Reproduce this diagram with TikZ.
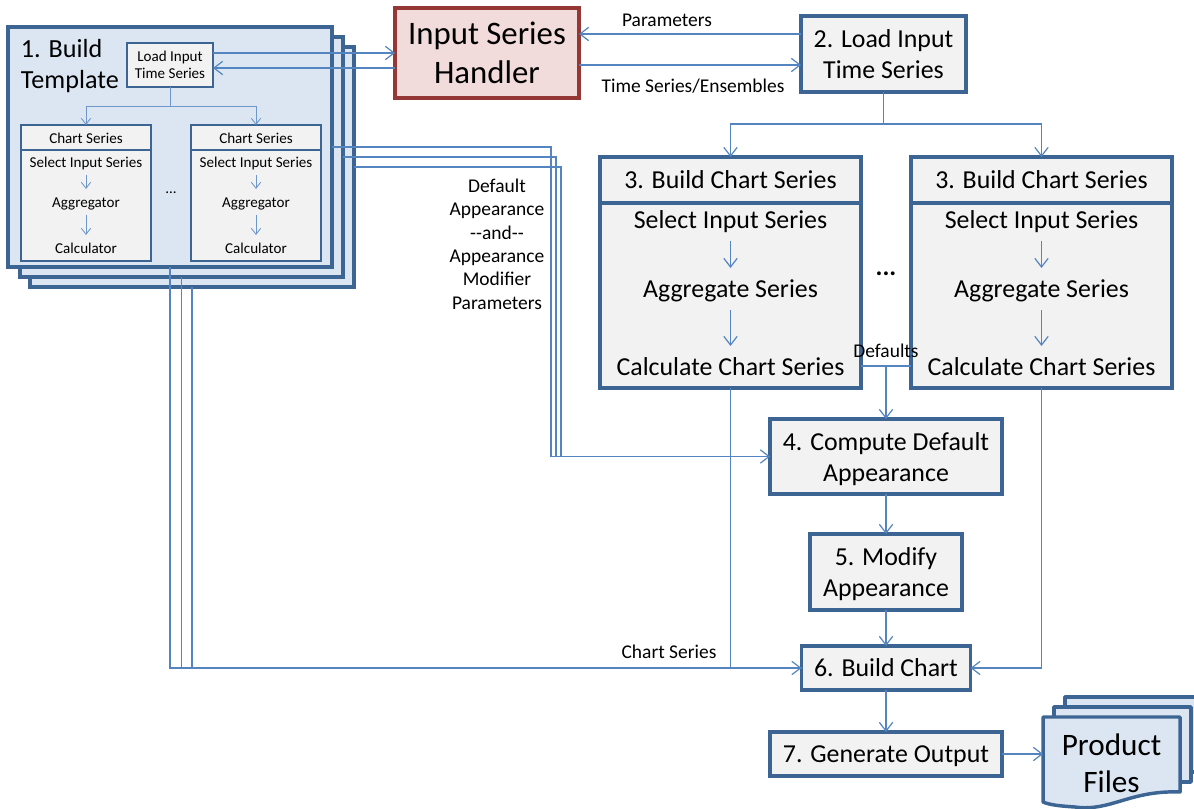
\documentclass[tikz,border=0pt]{standalone}
\usepackage{fontspec}
\setmainfont{Carlito}
\usetikzlibrary{arrows.meta}
\definecolor{edgeblue}{HTML}{3D6594}
\definecolor{linkblue}{HTML}{5585C0}
\definecolor{paleblue}{HTML}{DCE6F2}
\definecolor{palegrey}{HTML}{F2F2F2}
\definecolor{redline}{HTML}{953735}
\definecolor{palered}{HTML}{F2DCDB}
\tikzset{
  x=.75pt,y=-.75pt,
  shell/.style={draw=edgeblue,rectangle,inner sep=0pt,outer sep=0pt,align=center,text=black},
  thick3/.style={shell,line width=2.6pt},
  thick2/.style={shell,line width=1.6pt},
  frame3/.style={thick3,fill=paleblue},
  stepbox/.style={thick3,fill=palegrey,font=\fontsize{19.4}{23.3}\selectfont},
  oneline/.style={text height=12.3pt,text depth=0pt},
  twoline/.style={text height=37pt,text depth=0pt},
  smallbox/.style={thick2,fill=palegrey,font=\fontsize{11.3}{13}\selectfont},
  smallone/.style={text height=8.5pt,text depth=0pt},
  handlerbox/.style={shell,line width=2.6pt,draw=redline,fill=palered,font=\fontsize{24.6}{29}\selectfont},
  txt/.style={inner sep=0pt,outer sep=0pt,align=center,text=black},
  smalltxt/.style={txt,font=\fontsize{11.3}{13}\selectfont,minimum height=19.5pt,smallone},
  bigtxt/.style={txt,font=\fontsize{19.4}{23.3}\selectfont,minimum height=31.5pt,oneline},
  lbl/.style={txt,font=\fontsize{14.6}{17.5}\selectfont},
  link/.style={draw=linkblue,line width=.9pt},
  arrow/.style={link,-{Straight Barb[length=6.5pt,width=10pt,line width=.9pt]}},
  thinlink/.style={draw=linkblue!85!white,line width=.65pt},
  thinarrow/.style={thinlink,-{Straight Barb[length=4.5pt,width=7pt,line width=.65pt]}},
  sheet/.style={draw=edgeblue,line width=2.6pt,fill=paleblue,line join=round},
}
\newcommand{\bx}[7]{\node[#6,minimum width={(#4-#2)*.75pt},minimum height={(#5-#3)*.75pt}] (#1) at ({(#2+#4)/2},{(#3+#5)/2}) {#7};}
% small chart card: prefix, left x
\newcommand{\smallcard}[2]{%
  \bx{#1head}{#2}{125}{#2+130}{150}{smallbox,smallone}{Chart Series}
  \bx{#1body}{#2}{150}{#2+130}{261}{smallbox}{}
  \node[smalltxt] (#1sel) at (#2+65,162) {Select Input Series};
  \node[smalltxt] (#1agg) at (#2+65,202) {Aggregator};
  \node[smalltxt] (#1cal) at (#2+65,248) {Calculator};
  \draw[thinarrow] (#1sel.south) -- (#1agg.north);
  \draw[thinarrow] (#1agg.south) -- (#1cal.north);
}
% large chart card
\newcommand{\bigcard}[2]{%
  \bx{#1head}{#2}{157}{#2+261}{203}{stepbox,oneline}{3. Build Chart Series}
  \bx{#1body}{#2}{203}{#2+261}{388}{stepbox}{}
  \node[bigtxt] (#1sel) at (#2+130.5,220) {Select Input Series};
  \node[bigtxt] (#1agg) at (#2+130.5,289) {Aggregate Series};
  \node[bigtxt] (#1cal) at (#2+130.5,367) {Calculate Chart Series};
  \draw[arrow] (#1sel.south) -- (#1agg.north);
  \draw[arrow] (#1agg.south) -- (#1cal.north);
}
\begin{document}
\begin{tikzpicture}
\useasboundingbox (0,0) rectangle (1194,809);
% template stack
\bx{tmplc}{30}{47}{354}{287}{frame3}{}
\bx{tmplb}{20}{37}{343}{277}{frame3}{}
\bx{tmpla}{8}{27}{332}{267}{frame3}{}
\node[txt,anchor=west,align=left,font=\fontsize{19.6}{23.3}\selectfont] (tmpltitle) at (21,66) {1. Build\\Template};
\bx{load}{127}{43}{213}{87}{smallbox}{Load Input\\Time Series}
\smallcard{sa}{21}
\smallcard{sb}{191}
\node[txt,font=\fontsize{11.3}{13}\selectfont] (sdots) at (171,193) {...};
% main steps
\bx{handler}{395}{8}{579}{98}{handlerbox}{Input Series\\Handler}
\bx{stepii}{801}{16}{966}{92}{stepbox,twoline}{2. Load Input\\Time Series}
\bigcard{ba}{600}
\bigcard{bb}{911}
\node[txt,font=\fontsize{19.4}{22}\bfseries\selectfont] (bdots) at (886,274) {...};
\bx{stepiv}{770}{419}{1002}{494}{stepbox,twoline}{4. Compute Default\\Appearance}
\bx{stepv}{810}{534}{962}{610}{stepbox,twoline}{5. Modify\\Appearance}
\bx{stepvi}{801.5}{646}{970.5}{690}{stepbox,oneline}{6. Build Chart}
\bx{stepvii}{770}{732}{1002}{776}{stepbox,oneline}{7. Generate Output}
% product files
\draw[sheet] (1065,697) rectangle (1202,772);
\draw[sheet] (1054,707) rectangle (1191,782);
\draw[sheet] (1043,717) -- (1180,717) -- (1180,792) .. controls (1130,790) and (1110,812) .. (1075,807) .. controls (1060,806) and (1050,805) .. (1043,802) -- cycle;
\node[txt,minimum width=102.75pt,minimum height=68pt,font=\fontsize{23.4}{28}\selectfont] (product) at (1111.5,763) {Product\\Files};
% connector helpers
\coordinate (yup) at (0,53);
\coordinate (ydown) at (0,68);
\coordinate (ypar) at (0,34);
\coordinate (yser) at (0,65);
\coordinate (ja) at (170,106);
\coordinate (jb) at (883.5,124);
\coordinate (defs) at (886,366);
\coordinate (busa) at (551,456.5);
\coordinate (busb) at (556,456.5);
\coordinate (busc) at (561,456.5);
% connectors
\draw[arrow] (load.east |- yup) -- (handler.west |- yup);
\draw[arrow] (handler.west |- ydown) -- (load.east |- ydown);
\draw[arrow] (stepii.west |- ypar) -- (handler.east |- ypar);
\draw[arrow] (handler.east |- yser) -- (stepii.west |- yser);
\draw[thinlink] (load.south) -- (ja);
\draw[thinarrow] (ja) -| (sahead.north);
\draw[thinarrow] (ja) -| (sbhead.north);
\draw[link] (stepii.south) -- (jb);
\draw[arrow] (jb) -| (bahead.north);
\draw[arrow] (jb) -| (bbhead.north);
\draw[link] (tmpla.east) -| (busa) -- (stepiv.west);
\draw[link] (tmplb.east) -| (busb) -- (stepiv.west);
\draw[arrow] (tmplc.east) -| (busc) -- (stepiv.west);
\draw[link] (tmpla.south) |- (stepvi.west);
\draw[link] (tmplb.south) |- (stepvi.west);
\draw[arrow] (tmplc.south) |- (stepvi.west);
\draw[link] (babody.south) |- (stepvi.west);
\draw[arrow] (bbbody.south) |- (stepvi.east);
\draw[link] (babody.east |- defs) -- (bbbody.west |- defs);
\draw[arrow] (defs) -- (stepiv.north);
\draw[arrow] (stepiv.south) -- (stepv.north);
\draw[arrow] (stepv.south) -- (stepvi.north);
\draw[arrow] (stepvi.south) -- (stepvii.north);
\draw[arrow] (stepvii.east) -- (stepvii.east -| product.west);
% labels
\node[lbl] (lpar) at (667,20) {Parameters};
\node[lbl] (lser) at (693,86) {Time Series/Ensembles};
\node[lbl] (ldef) at (497,244) {Default\\Appearance\\{-}{-}and{-}{-}\\Appearance\\Modifier\\Parameters};
\node[lbl] (ldefs) at (886,351) {Defaults};
\node[lbl] (lcs) at (669,652) {Chart Series};
\end{tikzpicture}
\end{document}
